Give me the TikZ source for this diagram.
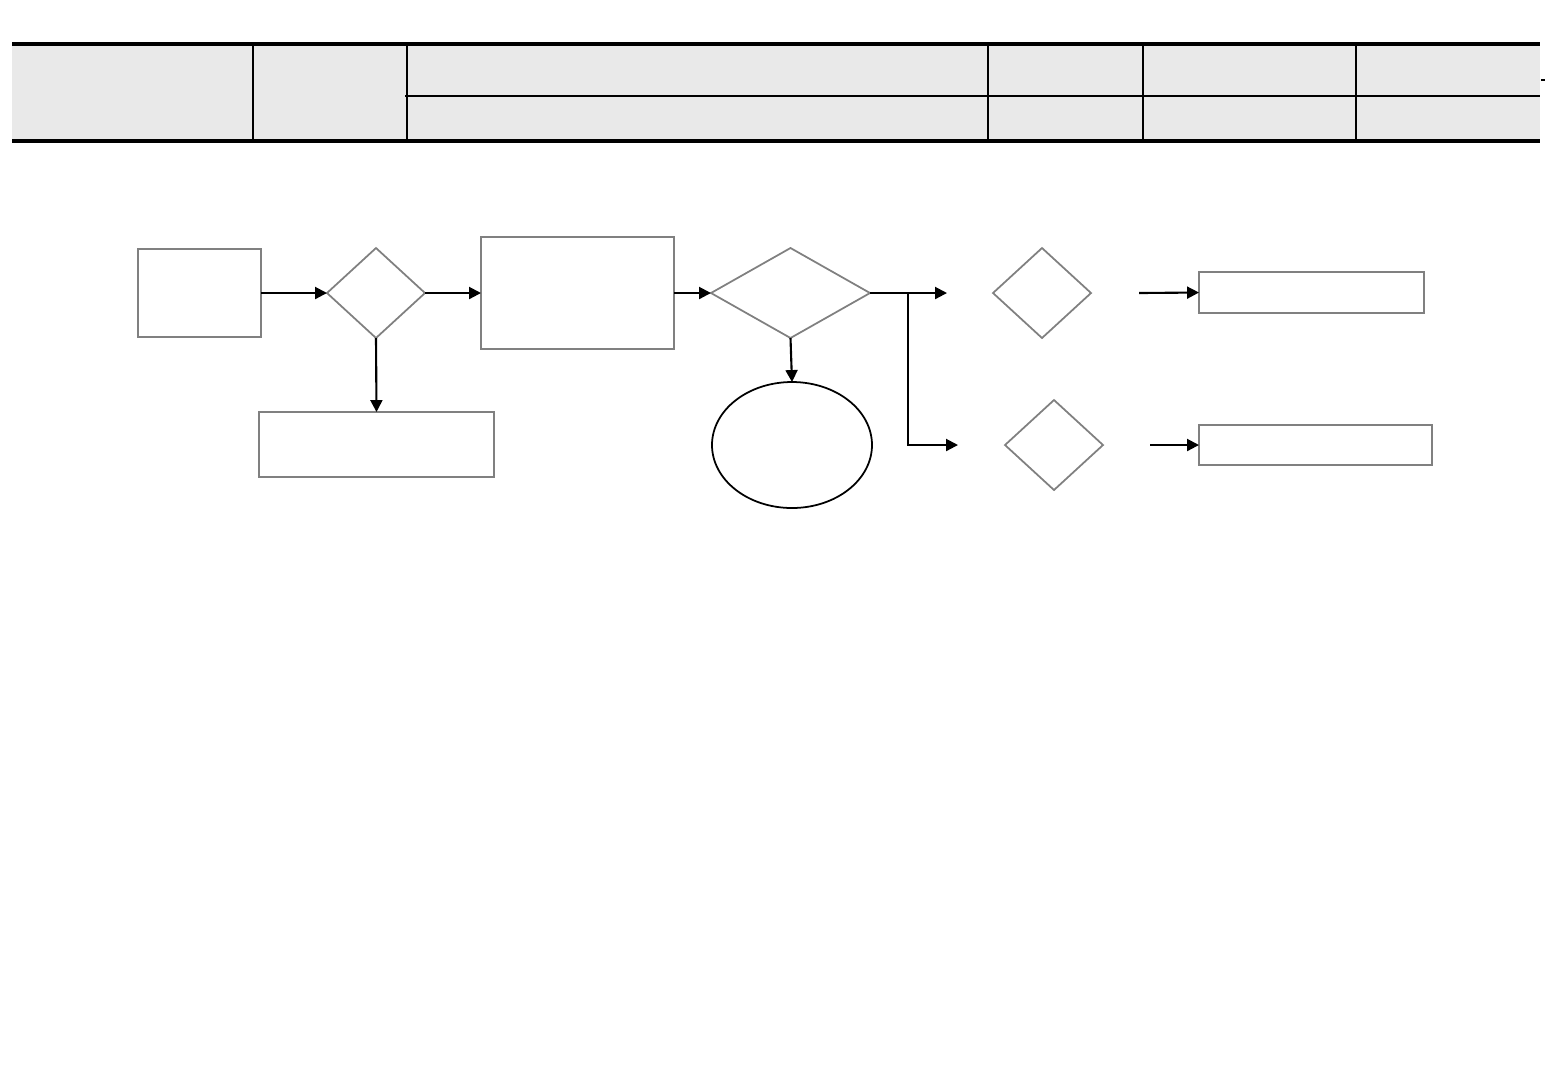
\documentclass[tikz,border=0pt]{standalone}
\usepackage{xcolor}
\usepackage{tikz}
\usetikzlibrary{positioning,arrows.meta,shapes}

\definecolor{headgray}{HTML}{E9E9E9}
\definecolor{boxgray}{HTML}{808080}

\begin{document}
\begin{tikzpicture}[
			x=0.1mm, y=-0.1mm,
			block/.style={rectangle, draw=boxgray, line width=0.6pt, inner sep=0pt, outer sep=0pt},
			decision/.style={diamond, draw=boxgray, line width=0.5pt, inner sep=0pt, outer sep=0pt},
			endblock/.style={ellipse, draw, line width=0.5pt, inner sep=0pt, outer sep=0pt, minimum width=16mm, minimum height=12.6mm},
			arrow/.style={-{Triangle[length=3.4pt,width=3.4pt]}, line width=0.6pt},
			rule/.style={line width=0.9pt},
			thinrule/.style={line width=0.6pt}
		]
		\useasboundingbox (0,0) rectangle (1560,1080);

		% header table
		\fill[headgray] (12,44) rectangle (1540,141);
		\draw[rule] (12,44) -- (1540,44);
		\draw[rule] (12,141) -- (1540,141);
		\draw[thinrule] (405,96) -- (1540,96);
		\foreach \xcol in {253,407,988,1143,1356}
			\draw[thinrule] (\xcol,44) -- (\xcol,141);
		\draw[thinrule] (1541,80) -- (1545,80);

		% flow
		\node[block, minimum width=12.3mm, minimum height=8.8mm] (start) at (199.5,293) {};
		\node[decision, minimum width=9.8mm, minimum height=9mm] (check) at (376,293) {};
		\node[block, minimum width=23.5mm, minimum height=6.5mm] (reject) at (376.5,444.5) {};
		\node[block, minimum width=19.3mm, minimum height=11.2mm] (process) at (577.5,293) {};
		\node[decision, minimum width=15.9mm, minimum height=9mm] (review) at (790.5,293) {};
		\node[endblock] (finish) at (792,445) {};
		\node[decision, minimum width=9.8mm, minimum height=9mm] (checka) at (1042,293) {};
		\node[decision, minimum width=9.8mm, minimum height=9mm] (checkb) at (1054,445) {};
		\node[block, minimum width=22.5mm, minimum height=4.1mm] (resulta) at (1311.5,292.5) {};
		\node[block, minimum width=23.3mm, minimum height=4mm] (resultb) at (1315.5,445) {};

		\coordinate (split) at (908,293);
		\coordinate (enda) at (947,293);
		\coordinate (endb) at (958,445);
		\coordinate (froma) at (1139,293);
		\coordinate (fromb) at (1150,445);

		\draw[arrow] (start) -- (check);
		\draw[arrow] (check) -- (process);
		\draw[arrow] (check.south) -- (reject.north);
		\draw[arrow] (process) -- (review);
		\draw[arrow] (review.south) -- (finish.north);
		\draw[arrow] (review.east) -- (enda);
		\draw[arrow] (split) |- (endb);
		\draw[arrow] (froma) -- (resulta.west);
		\draw[arrow] (fromb) -- (resultb.west);
	\end{tikzpicture}
\end{document}
